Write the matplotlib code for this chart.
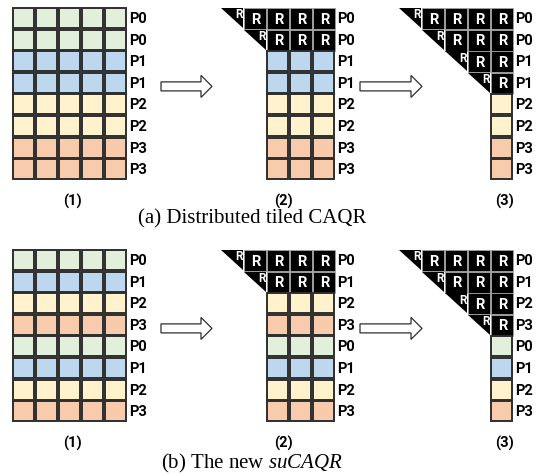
import matplotlib.pyplot as plt
from matplotlib.patches import Rectangle, Polygon, FancyArrow

plt.rcParams['mathtext.fontset'] = 'custom'
plt.rcParams['mathtext.rm'] = 'Liberation Serif'
plt.rcParams['mathtext.it'] = 'Liberation Serif:italic'

# row owners for the two layouts
rows_a = ['P0', 'P0', 'P1', 'P1', 'P2', 'P2', 'P3', 'P3']
rows_b = ['P0', 'P1', 'P2', 'P3', 'P0', 'P1', 'P2', 'P3']
proc_colors = {'P0': '#E2EFDA', 'P1': '#BDD7EE', 'P2': '#FFF2CC', 'P3': '#F8CBAD'}
n_cols = 5
# how many rows have been reduced to R in each step
r_rows = [0, 2, 4]
# first column still holding data in each step
first_col = [0, 2, 4]
step_names = ['(1)', '(2)', '(3)']
captions = ['(a) Distributed tiled CAQR', r'(b) The new $suCAQR$']

grid_x = [13, 221, 399]
panel_y = [8, 250]
step_label_y = [201, 443]
caption_y = [219, 463]
pitch_x, pitch_y = 23, 21.6
cell_w, cell_h = 21, 20
edge = '#2e2e2e'
label_font = 'Roboto'

fig = plt.figure(figsize=(5.48, 4.76), dpi=100)
ax = fig.add_axes([0, 0, 1, 1])
ax.set_xlim(0, 548)
ax.set_ylim(476, 0)
ax.axis('off')


def draw_step(x0, y0, rows, step):
	nr = r_rows[step]
	c0 = first_col[step]
	for i, p in enumerate(rows):
		y = y0 + i * pitch_y
		if i < nr:
			# diagonal tile: upper triangle of R
			xt = x0 + i * pitch_x
			ax.add_patch(Polygon([(xt, y), (xt + cell_w + 1, y), (xt + cell_w + 1, y + cell_h)],
				closed=True, fc='black', ec='none'))
			ax.text(xt + cell_w + 0.5, y + 0.3, 'R', color='white', fontsize=8.5, fontweight='bold',
				family=label_font, ha='right', va='top')
			for j in range(i + 1, n_cols):
				xc = x0 + j * pitch_x
				ax.add_patch(Rectangle((xc, y), cell_w + 1, cell_h + 1, fc='black', ec='#a0a0a0', lw=0.6))
				ax.text(xc + cell_w / 2 + 1, y + cell_h / 2 + 1.5, 'R', color='white', fontsize=10.5,
					fontweight='bold', family=label_font, ha='center', va='center')
		else:
			for j in range(c0, n_cols):
				xc = x0 + j * pitch_x
				ax.add_patch(Rectangle((xc, y), cell_w, cell_h, fc=proc_colors[p], ec=edge, lw=1.4))
		ax.text(x0 + (n_cols - 1) * pitch_x + cell_w + 3, y + cell_h / 2 + 1, p, fontsize=10.5,
			fontweight='bold', family=label_font, ha='left', va='center')


def hollow_arrow(xs, xe, yc):
	ax.add_patch(FancyArrow(xs, yc, xe - xs, 0, width=9, head_width=22, head_length=11,
		length_includes_head=True, fc='white', ec=edge, lw=0.9))


for k, rows in enumerate([rows_a, rows_b]):
	y0 = panel_y[k]
	for s in range(3):
		draw_step(grid_x[s], y0, rows, s)
	yc = y0 + 4 * pitch_y - 8
	hollow_arrow(161, 212, yc)
	hollow_arrow(360, 422, yc)
	for s, xl in zip(range(3), [72, 283, 505]):
		ax.text(xl, step_label_y[k], step_names[s], fontsize=10.5, fontweight='bold',
			family=label_font, ha='center', va='center')
	ax.text(252, caption_y[k], captions[k], fontsize=15, family='Liberation Serif',
		ha='center', va='center')

fig.savefig('out.png', dpi=100)
